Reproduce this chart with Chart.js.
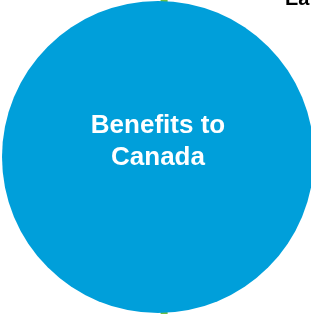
<!DOCTYPE html>
<html>
<head>
<meta charset="utf-8">
<script src="https://cdn.jsdelivr.net/npm/chart.js@4/dist/chart.umd.min.js"></script>
<style>
  html, body { margin: 0; padding: 0; background: #fff; }
  #wrap { width: 311px; height: 314px; }
</style>
</head>
<body>
<div id="wrap"><canvas id="myChart"></canvas></div>
<script>
// values
const circleLabels = ["Benefits to", "Canada"];
const circlePoint = [{ x: 0, y: 0, r: 156 }];
const stemPoints = [{ x: 0.04, y: -1.1 }, { x: 0.04, y: 1.1 }];
const cornerTitle = "Ea";

const blue = "#009fda";
const green = "#6cbe45";

const ctx = document.getElementById("myChart");

// text inside the circle + the cut-off title at the top right
const textPlugin = {
	id: "circleText",
	afterDatasetsDraw(chart) {
		const c = chart.ctx;
		const pt = chart.getDatasetMeta(1).data[0];
		c.save();
		c.fillStyle = "#fff";
		c.textAlign = "center";
		c.textBaseline = "alphabetic";
		c.font = "bold 26px 'Liberation Sans', Arial, sans-serif";
		circleLabels.forEach((t, i) => {
			c.fillText(t, pt.x, pt.y - 24 + i * 32);
		});
		c.fillStyle = "#000";
		c.textAlign = "left";
		c.font = "bold 20px 'Liberation Sans', Arial, sans-serif";
		c.fillText(cornerTitle, 285, 5);
		c.restore();
	},
};

new Chart(ctx, {
	type: "bubble",
	data: {
		datasets: [
			{
				type: "line",
				data: stemPoints,
				borderColor: green,
				borderWidth: 7,
				pointRadius: 0,
				order: 2,
				clip: false,
			},
			{
				data: circlePoint,
				backgroundColor: blue,
				borderColor: blue,
				borderWidth: 0,
				hoverRadius: 0,
				order: 1,
				clip: false,
			},
		],
	},
	options: {
		responsive: true,
		maintainAspectRatio: false,
		animation: false,
		events: [],
		layout: { autoPadding: false, padding: { left: 5, right: 0, top: 0, bottom: 0 } },
		plugins: {
			legend: { display: false },
			tooltip: { enabled: false },
		},
		scales: {
			x: { type: "linear", min: -1, max: 1, display: false },
			y: { type: "linear", min: -1, max: 1, display: false },
		},
	},
	plugins: [textPlugin],
});
</script>
</body>
</html>
